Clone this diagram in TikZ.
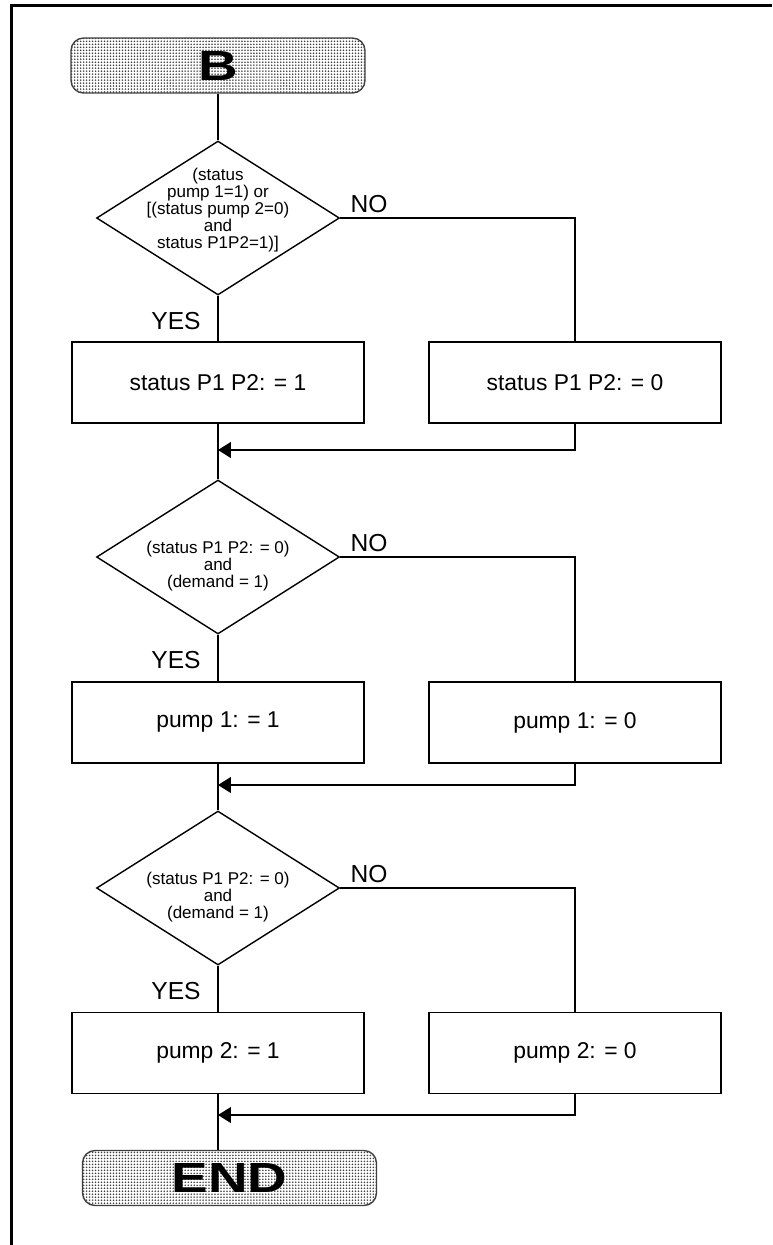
\documentclass[tikz,border=0pt]{standalone}
\usepackage{fontspec}
\setmainfont{Liberation Sans}
\usetikzlibrary{positioning, arrows.meta, shapes.geometric, patterns.meta}

% wide lettering for the terminals
\newcommand{\wide}[1]{\scalebox{1.3}[1]{#1}}

\begin{document}
\begin{tikzpicture}[
  x=0.02cm, y=-0.02cm,
  line width=0.8pt,
  terminal/.style={rectangle, rounded corners=0.25cm, draw=black!75,
    pattern={Dots[distance=1.7pt, radius=0.5pt]}, pattern color=black!75,
    minimum width=5.88cm, minimum height=1.1cm, inner sep=0pt,
    font=\fontsize{24}{24}\selectfont\bfseries},
  decision/.style={diamond, draw, minimum width=4.86cm, minimum height=3.08cm, inner sep=0pt},
  question/.style={align=center, inner sep=0pt, font=\fontsize{9.7}{9.7}\selectfont},
  assign/.style={rectangle, draw, minimum width=5.84cm, minimum height=1.62cm,
    font=\fontsize{13}{15}\selectfont},
  answer/.style={inner sep=0pt, font=\fontsize{14}{16}\selectfont},
  flow/.style={-{Triangle[length=0.26cm, width=0.32cm]}}
]
  \useasboundingbox (0,0) rectangle (772,1245);
  \draw[line width=0.06cm] (11.5,1245) -- (11.5,5.5) -- (772,5.5);

  \node[terminal] (start) at (218,65.5) {\wide{B}};

  % first test: status P1P2
  \node[decision] (d1) at (218,218) {};
  \node[question] (q1) at (218,210) {(status\\pump 1=1) or\\{[}(status pump 2=0)\\and\\status P1P2=1)]};
  \node[answer] (no1) at ([xshift=0.58cm, yshift=0.28cm]d1.east) {NO};
  \node[answer] (yes1) at ([xshift=-0.84cm, yshift=-0.5cm]d1.south) {YES};
  \node[assign] (s11) at (218,382.5) {status P1 P2: = 1};
  \node[assign] (s10) at (575,382.5) {status P1 P2: = 0};
  \coordinate (j1) at (218,450);

  % second test: pump 1
  \node[decision] (d2) at (218,557) {};
  \node[question] (q2) at (218,566) {(status P1 P2: = 0)\\and\\(demand = 1)};
  \node[answer] (no2) at ([xshift=0.58cm, yshift=0.28cm]d2.east) {NO};
  \node[answer] (yes2) at ([xshift=-0.84cm, yshift=-0.5cm]d2.south) {YES};
  \node[assign] (s21) at (218,722.5) {pump 1: = 1};
  \node[assign] (s20) at (575,722.5) {pump 1: = 0};
  \coordinate (j2) at (218,785);

  % third test: pump 2
  \node[decision] (d3) at (218,888) {};
  \node[question] (q3) at (218,897) {(status P1 P2: = 0)\\and\\(demand = 1)};
  \node[answer] (no3) at ([xshift=0.58cm, yshift=0.28cm]d3.east) {NO};
  \node[answer] (yes3) at ([xshift=-0.84cm, yshift=-0.5cm]d3.south) {YES};
  \node[assign] (s31) at (218,1053) {pump 2: = 1};
  \node[assign] (s30) at (575,1053) {pump 2: = 0};
  \coordinate (j3) at (218,1115);

  \node[terminal] (stop) at (229.5,1178) {\wide{END}};

  % connectors
  \draw (start) -- (d1);
  \foreach \i/\n in {1/2, 2/3} {
    \draw (d\i) -- (s\i1);
    \draw (d\i.east) -| (s\i0.north);
    \draw (s\i1) -- (d\n);
    \draw[flow] (s\i0.south) |- (j\i);
  }
  \draw (d3) -- (s31);
  \draw (d3.east) -| (s30.north);
  \draw (s31.south) -- (s31.south |- stop.north);
  \draw[flow] (s30.south) |- (j3);
\end{tikzpicture}
\end{document}
